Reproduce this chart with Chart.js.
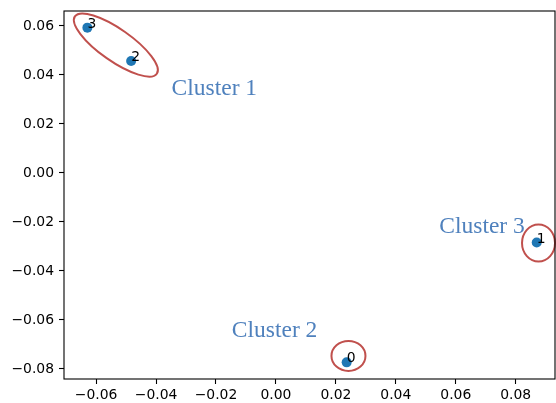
<!DOCTYPE html>
<html>
<head>
<meta charset="utf-8">
<script src="https://cdn.jsdelivr.net/npm/chart.js@4/dist/chart.umd.min.js"></script>
<style>
  html, body { margin: 0; padding: 0; background: #fff; }
  #chart { display: block; }
</style>
</head>
<body>
<canvas id="chart" width="556" height="403"></canvas>
<script>
// point ids and coordinates
let pointIds = ['0', '1', '2', '3'];
let xValues = [0.0236, 0.0870, -0.0483, -0.0629];
let yValues = [-0.0773, -0.0284, 0.0457, 0.0593];

// cluster captions, anchored in data units (left / baseline)
let clusterNames = ['Cluster 1', 'Cluster 2', 'Cluster 3'];
let clusterX = [-0.0348, -0.0147, 0.0545];
let clusterY = [0.0318, -0.0669, -0.0245];

// circled groups, centres in data units
let ringX = [-0.0534, 0.0242, 0.0876];
let ringY = [0.0522, -0.0747, -0.0286];

// ring shapes in pixels: [rx, ry, rotation in degrees]
const ringShape = [[50, 16, 35], [17, 15, 0], [16.5, 18.5, 0]];

const tickFont = { family: 'DejaVu Sans', size: 13.9 };

function fmt(v) {
  let r = Math.round(v * 100) / 100;
  return (r < 0 ? '\u2212' : '') + Math.abs(r).toFixed(2);
}

const overlay = {
  id: 'overlay',
  afterDatasetsDraw(chart) {
    const ctx = chart.ctx;
    const xs = chart.scales.x, ys = chart.scales.y;
    const area = chart.chartArea;

    // point labels
    ctx.save();
    ctx.fillStyle = '#000';
    ctx.font = '13.9px "DejaVu Sans"';
    ctx.textAlign = 'left';
    ctx.textBaseline = 'alphabetic';
    pointIds.forEach((id, i) => {
      ctx.fillText(id, xs.getPixelForValue(xValues[i]), ys.getPixelForValue(yValues[i]));
    });

    // red rings
    ctx.strokeStyle = '#c0504d';
    ctx.lineWidth = 2;
    ringX.forEach((v, i) => {
      const s = ringShape[i];
      ctx.beginPath();
      ctx.ellipse(xs.getPixelForValue(v), ys.getPixelForValue(ringY[i]), s[0], s[1], s[2] * Math.PI / 180, 0, Math.PI * 2);
      ctx.stroke();
    });

    // cluster captions
    ctx.fillStyle = '#4f81bd';
    ctx.font = '23.5px "Liberation Serif"';
    clusterNames.forEach((name, i) => {
      ctx.fillText(name, xs.getPixelForValue(clusterX[i]), ys.getPixelForValue(clusterY[i]));
    });

    // frame
    ctx.strokeStyle = '#000';
    ctx.lineWidth = 1.1;
    ctx.strokeRect(area.left, area.top, area.right - area.left, area.bottom - area.top);
    ctx.restore();
  }
};

new Chart(document.getElementById('chart'), {
  type: 'scatter',
  data: {
    datasets: [{
      data: xValues.map((x, i) => ({ x: x, y: yValues[i] })),
      backgroundColor: '#1f77b4',
      borderWidth: 0,
      pointRadius: 5
    }]
  },
  options: {
    responsive: false,
    animation: false,
    devicePixelRatio: 1,
    layout: { autoPadding: false, padding: { top: 11, right: 1, left: 0, bottom: 0 } },
    plugins: { legend: { display: false }, tooltip: { enabled: false } },
    scales: {
      x: {
        type: 'linear',
        min: -0.0707,
        max: 0.0931,
        afterFit(s) { s.height = 24; s.paddingLeft = 0; s.paddingRight = 0; },
        border: { display: false },
        grid: { drawOnChartArea: false, drawTicks: true, tickLength: 5, tickColor: '#000', tickWidth: 1.1 },
        ticks: { stepSize: 0.02, includeBounds: false, color: '#000', font: tickFont, padding: 3, maxRotation: 0, callback: fmt }
      },
      y: {
        type: 'linear',
        min: -0.0841,
        max: 0.0661,
        afterFit(s) { s.width = 64; s.paddingTop = 0; s.paddingBottom = 0; },
        border: { display: false },
        grid: { drawOnChartArea: false, drawTicks: true, tickLength: 5, tickColor: '#000', tickWidth: 1.1 },
        ticks: { stepSize: 0.02, includeBounds: false, color: '#000', font: tickFont, padding: 5, callback: fmt }
      }
    }
  },
  plugins: [overlay]
});
</script>
</body>
</html>
